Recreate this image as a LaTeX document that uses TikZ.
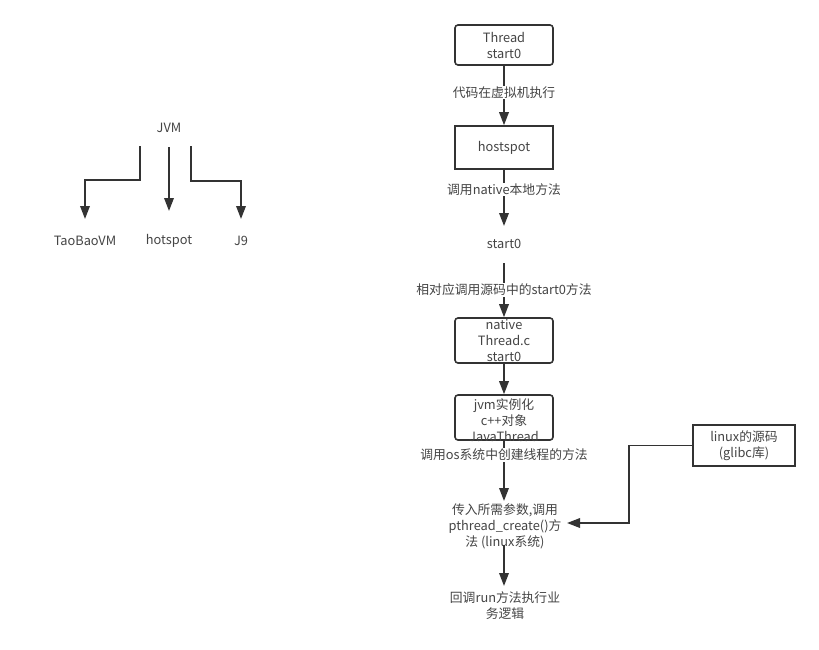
\documentclass[tikz,border=0pt]{standalone}
\usepackage{fontspec}
\setmainfont{Noto Sans CJK SC}
\usetikzlibrary{arrows.meta}
\definecolor{ink}{HTML}{333333}
\definecolor{tink}{HTML}{444444}
\begin{document}
\begin{tikzpicture}[x=1pt,y=-1pt,
  every node/.style={font=\fontsize{12.8}{16}\selectfont, text=tink, align=center},
  txt/.style={inner sep=0pt},
  rbox/.style={draw=ink, line width=1.6pt, rounded corners=3pt, minimum width=98pt, inner sep=0pt},
  sbox/.style={draw=ink, line width=1.6pt, minimum width=98pt, inner sep=0pt},
  elabel/.style={fill=white, inner sep=1pt},
  arr/.style={draw=ink, line width=1.8pt, -{Triangle[width=9.5pt,length=13pt]}},
  ln/.style={draw=ink, line width=1.8pt}
]
\useasboundingbox (0,0) rectangle (819,649);

% left tree
\node[txt] (jvm) at (169,128) {JVM};
\node[txt] (tb) at (85,241) {TaoBaoVM};
\node[txt] (hsl) at (169,241) {hotspot};
\node[txt] (j9) at (241,241) {J9};
\coordinate (tbtip) at (85,219);
\coordinate (hstip) at (169,211);
\coordinate (j9tip) at (241,219);
\draw[arr] (140,146) -- (140,180) -- (85,180) -- (tbtip);
\draw[arr] (169,147) -- (hstip);
\draw[arr] (191,146) -- (191,181) -- (241,181) -- (j9tip);

% right chain
\node[rbox, minimum height=40pt] (thread) at (504,45) {Thread\\start0};
\node[sbox, minimum height=43pt] (hs) at (504,147.5) {hostspot};
\node[txt] (s0) at (504,244) {start0};
\node[rbox, minimum height=45pt] (nat) at (504,340.5) {native\\Thread.c\\start0};
\node[rbox, minimum height=45pt] (jvmi) at (504,417.5) {};
\node[txt] (jvmit) at (504,420) {jvm实例化\\c++对象\\JavaThread};
\node[txt] (pt) at (505,526) {传入所需参数,调用\\pthread\_create()方\\法 (linux系统)};
\node[txt] (cb) at (505,606) {回调run方法执行业\\务逻辑};
\node[sbox, minimum width=102pt, minimum height=41pt] (lx) at (744,445.5) {linux的源码\\(glibc库)};

\coordinate (s0top) at (504,226);
\coordinate (s0bot) at (504,263);
\coordinate (pttop) at (504,501);
\coordinate (ptbot) at (504,545);
\coordinate (cbtop) at (504,586);
\coordinate (pttip) at (567,523);

\draw[arr] (thread) -- node[elabel, pos=0.45] {代码在虚拟机执行} (hs);
\draw[arr] (hs) -- node[elabel, pos=0.35] {调用native本地方法} (s0top);
\draw[arr] (s0bot) -- node[elabel, pos=0.5] {相对应调用源码中的start0方法} (nat);
\draw[arr] (nat) -- (jvmi);
\draw[arr] (jvmi) -- node[elabel, pos=0.23] {调用os系统中创建线程的方法} (pttop);
\draw[arr] (ptbot) -- (cbtop);
\draw[arr] (lx.west) -- (629,445.5) -- (629,523) -- (pttip);
\end{tikzpicture}
\end{document}
